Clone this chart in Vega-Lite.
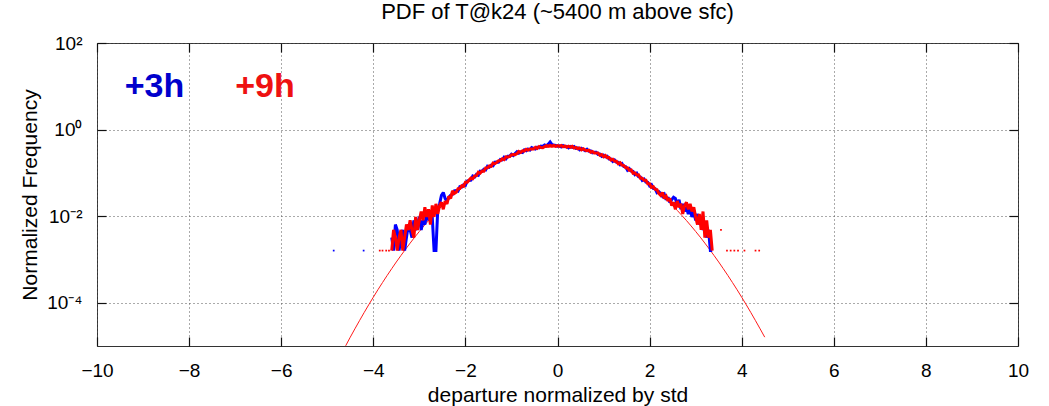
{
  "$schema": "https://vega.github.io/schema/vega-lite/v6.json",
  "autosize": {"type": "none"},
  "width": 921,
  "height": 303,
  "padding": {"left": 97, "top": 43, "right": 31, "bottom": 60},
  "background": "white",
  "title": {
    "text": "PDF of T@k24 (~5400 m above sfc)",
    "font": "Liberation Sans",
    "fontSize": 22,
    "fontWeight": "normal",
    "color": "#000000",
    "anchor": "middle",
    "offset": 10
  },
  "config": {
    "view": {"stroke": "#333333", "strokeWidth": 1},
    "axis": {
      "labelFont": "Liberation Sans",
      "titleFont": "Liberation Sans",
      "labelFontSize": 19,
      "titleFontSize": 21,
      "titleFontWeight": "normal",
      "labelColor": "#000000",
      "titleColor": "#000000",
      "ticks": true,
      "tickColor": "#111111",
      "tickWidth": 1.2,
      "gridColor": "#555555",
      "gridDash": [1, 3],
      "gridOpacity": 1,
      "gridWidth": 1,
      "domain": false
    }
  },
  "datasets": {
    "normal": [
      {"x": -4.6, "pdf": 0.0000101}, {"x": -4.5, "pdf": 0.0000160}, {"x": -4.4, "pdf": 0.0000249},
      {"x": -4.3, "pdf": 0.0000385}, {"x": -4.2, "pdf": 0.0000589}, {"x": -4.1, "pdf": 0.0000893},
      {"x": -4.0, "pdf": 0.000134}, {"x": -3.9, "pdf": 0.000199}, {"x": -3.8, "pdf": 0.000292},
      {"x": -3.7, "pdf": 0.000425}, {"x": -3.6, "pdf": 0.000612}, {"x": -3.5, "pdf": 0.000873},
      {"x": -3.4, "pdf": 0.00123}, {"x": -3.3, "pdf": 0.00172}, {"x": -3.2, "pdf": 0.00238},
      {"x": -3.1, "pdf": 0.00327}, {"x": -3.0, "pdf": 0.00443}, {"x": -2.9, "pdf": 0.00595},
      {"x": -2.8, "pdf": 0.00792}, {"x": -2.7, "pdf": 0.0104}, {"x": -2.6, "pdf": 0.0136},
      {"x": -2.5, "pdf": 0.0175}, {"x": -2.4, "pdf": 0.0224}, {"x": -2.3, "pdf": 0.0283},
      {"x": -2.2, "pdf": 0.0355}, {"x": -2.1, "pdf": 0.0440}, {"x": -2.0, "pdf": 0.0540},
      {"x": -1.9, "pdf": 0.0656}, {"x": -1.8, "pdf": 0.0790}, {"x": -1.7, "pdf": 0.0940},
      {"x": -1.6, "pdf": 0.1109}, {"x": -1.5, "pdf": 0.1295}, {"x": -1.4, "pdf": 0.1497},
      {"x": -1.3, "pdf": 0.1714}, {"x": -1.2, "pdf": 0.1942}, {"x": -1.1, "pdf": 0.2179},
      {"x": -1.0, "pdf": 0.2420}, {"x": -0.9, "pdf": 0.2661}, {"x": -0.8, "pdf": 0.2897},
      {"x": -0.7, "pdf": 0.3123}, {"x": -0.6, "pdf": 0.3332}, {"x": -0.5, "pdf": 0.3521},
      {"x": -0.4, "pdf": 0.3683}, {"x": -0.3, "pdf": 0.3814}, {"x": -0.2, "pdf": 0.3910},
      {"x": -0.1, "pdf": 0.3970}, {"x": 0.0, "pdf": 0.3989}, {"x": 0.1, "pdf": 0.3970},
      {"x": 0.2, "pdf": 0.3910}, {"x": 0.3, "pdf": 0.3814}, {"x": 0.4, "pdf": 0.3683},
      {"x": 0.5, "pdf": 0.3521}, {"x": 0.6, "pdf": 0.3332}, {"x": 0.7, "pdf": 0.3123},
      {"x": 0.8, "pdf": 0.2897}, {"x": 0.9, "pdf": 0.2661}, {"x": 1.0, "pdf": 0.2420},
      {"x": 1.1, "pdf": 0.2179}, {"x": 1.2, "pdf": 0.1942}, {"x": 1.3, "pdf": 0.1714},
      {"x": 1.4, "pdf": 0.1497}, {"x": 1.5, "pdf": 0.1295}, {"x": 1.6, "pdf": 0.1109},
      {"x": 1.7, "pdf": 0.0940}, {"x": 1.8, "pdf": 0.0790}, {"x": 1.9, "pdf": 0.0656},
      {"x": 2.0, "pdf": 0.0540}, {"x": 2.1, "pdf": 0.0440}, {"x": 2.2, "pdf": 0.0355},
      {"x": 2.3, "pdf": 0.0283}, {"x": 2.4, "pdf": 0.0224}, {"x": 2.5, "pdf": 0.0175},
      {"x": 2.6, "pdf": 0.0136}, {"x": 2.7, "pdf": 0.0104}, {"x": 2.8, "pdf": 0.00792},
      {"x": 2.9, "pdf": 0.00595}, {"x": 3.0, "pdf": 0.00443}, {"x": 3.1, "pdf": 0.00327},
      {"x": 3.2, "pdf": 0.00238}, {"x": 3.3, "pdf": 0.00172}, {"x": 3.4, "pdf": 0.00123},
      {"x": 3.5, "pdf": 0.000873}, {"x": 3.6, "pdf": 0.000612}, {"x": 3.7, "pdf": 0.000425},
      {"x": 3.8, "pdf": 0.000292}, {"x": 3.9, "pdf": 0.000199}, {"x": 4.0, "pdf": 0.000134},
      {"x": 4.1, "pdf": 0.0000893}, {"x": 4.2, "pdf": 0.0000589}, {"x": 4.3, "pdf": 0.0000385},
      {"x": 4.4, "pdf": 0.0000249}, {"x": 4.5, "pdf": 0.0000160}
    ],
    "empirical": [
      {"x": -3.60, "b": 0.0032, "r": 0.0016}, {"x": -3.56, "b": 0.0016, "r": 0.0048},
      {"x": -3.52, "b": 0.0064, "r": 0.0032}, {"x": -3.48, "b": 0.0048, "r": 0.0016},
      {"x": -3.44, "b": 0.0016, "r": 0.0032}, {"x": -3.40, "b": 0.0032, "r": 0.0048},
      {"x": -3.36, "b": 0.0048, "r": 0.0016}, {"x": -3.32, "b": 0.0016, "r": 0.0032},
      {"x": -3.28, "b": 0.0032, "r": 0.0064}, {"x": -3.24, "b": 0.0064, "r": 0.0048},
      {"x": -3.20, "b": 0.0048, "r": 0.0080}, {"x": -3.16, "b": 0.0032, "r": 0.0048},
      {"x": -3.12, "b": 0.0080, "r": 0.0032}, {"x": -3.08, "b": 0.0048, "r": 0.0096},
      {"x": -3.04, "b": 0.0064, "r": 0.0048}, {"x": -3.00, "b": 0.0096, "r": 0.0080},
      {"x": -2.96, "b": 0.0048, "r": 0.0128}, {"x": -2.92, "b": 0.0080, "r": 0.0080},
      {"x": -2.88, "b": 0.0064, "r": 0.0160}, {"x": -2.84, "b": 0.0112, "r": 0.0096},
      {"x": -2.80, "b": 0.0080, "r": 0.0144}, {"x": -2.76, "b": 0.0128, "r": 0.0064},
      {"x": -2.72, "b": 0.0096, "r": 0.0176}, {"x": -2.68, "b": 0.0016, "r": 0.0096},
      {"x": -2.64, "b": 0.0016, "r": 0.0192}, {"x": -2.60, "b": 0.0144, "r": 0.0112},
      {"x": -2.56, "b": 0.0192, "r": 0.0176}, {"x": -2.52, "b": 0.0304, "r": 0.0208},
      {"x": -2.48, "b": 0.0352, "r": 0.0144}, {"x": -2.44, "b": 0.0256, "r": 0.0224},
      {"x": -2.40, "b": 0.0224, "r": 0.0192}, {"x": -2.36, "b": 0.0272, "r": 0.0288},
      {"x": -2.32, "b": 0.0304, "r": 0.0256}, {"x": -2.28, "b": 0.0320, "r": 0.0384},
      {"x": -2.24, "b": 0.0384, "r": 0.0336},
      {"x": -2.20, "b": 0.0392, "r": 0.0358}, {"x": -2.16, "b": 0.0378, "r": 0.0430},
      {"x": -2.12, "b": 0.0478, "r": 0.0434}, {"x": -2.08, "b": 0.0468, "r": 0.0501},
      {"x": -2.04, "b": 0.0533, "r": 0.0486}, {"x": -2.00, "b": 0.0516, "r": 0.0607},
      {"x": -1.96, "b": 0.0650, "r": 0.0607}, {"x": -1.92, "b": 0.0664, "r": 0.0684},
      {"x": -1.88, "b": 0.0679, "r": 0.0758}, {"x": -1.84, "b": 0.0840, "r": 0.0732},
      {"x": -1.80, "b": 0.0797, "r": 0.0847}, {"x": -1.76, "b": 0.0917, "r": 0.0863},
      {"x": -1.72, "b": 0.0878, "r": 0.1030}, {"x": -1.68, "b": 0.1094, "r": 0.0981},
      {"x": -1.64, "b": 0.1081, "r": 0.1103}, {"x": -1.60, "b": 0.1211, "r": 0.1094},
      {"x": -1.56, "b": 0.1167, "r": 0.1303}, {"x": -1.52, "b": 0.1426, "r": 0.1307},
      {"x": -1.48, "b": 0.1359, "r": 0.1443}, {"x": -1.44, "b": 0.1501, "r": 0.1412},
      {"x": -1.40, "b": 0.1462, "r": 0.1682}, {"x": -1.36, "b": 0.1761, "r": 0.1628},
      {"x": -1.32, "b": 0.1787, "r": 0.1745}, {"x": -1.28, "b": 0.1772, "r": 0.1901},
      {"x": -1.24, "b": 0.2038, "r": 0.1902}, {"x": -1.20, "b": 0.1998, "r": 0.2121},
      {"x": -1.16, "b": 0.2288, "r": 0.2031}, {"x": -1.12, "b": 0.2104, "r": 0.2350},
      {"x": -1.08, "b": 0.2408, "r": 0.2338}, {"x": -1.04, "b": 0.2415, "r": 0.2366},
      {"x": -1.00, "b": 0.2693, "r": 0.2617}, {"x": -0.96, "b": 0.2510, "r": 0.2668},
      {"x": -0.92, "b": 0.2799, "r": 0.2634}, {"x": -0.88, "b": 0.3072, "r": 0.2787},
      {"x": -0.84, "b": 0.2855, "r": 0.3120}, {"x": -0.80, "b": 0.3042, "r": 0.2951},
      {"x": -0.76, "b": 0.2950, "r": 0.3232}, {"x": -0.72, "b": 0.3395, "r": 0.3201},
      {"x": -0.68, "b": 0.3258, "r": 0.3490}, {"x": -0.64, "b": 0.3551, "r": 0.3346},
      {"x": -0.60, "b": 0.3359, "r": 0.3569}, {"x": -0.56, "b": 0.3831, "r": 0.3545},
      {"x": -0.52, "b": 0.3696, "r": 0.3549}, {"x": -0.48, "b": 0.3546, "r": 0.3882},
      {"x": -0.44, "b": 0.3916, "r": 0.3688}, {"x": -0.40, "b": 0.3790, "r": 0.4060},
      {"x": -0.36, "b": 0.4162, "r": 0.3847}, {"x": -0.32, "b": 0.4060, "r": 0.3821},
      {"x": -0.28, "b": 0.4391, "r": 0.4068}, {"x": -0.24, "b": 0.4233, "r": 0.4274},
      {"x": -0.20, "b": 0.4599, "r": 0.4147}, {"x": -0.16, "b": 0.5170, "r": 0.4300},
      {"x": -0.12, "b": 0.4491, "r": 0.4158}, {"x": -0.08, "b": 0.4384, "r": 0.4300},
      {"x": -0.04, "b": 0.4311, "r": 0.4101}, {"x": 0.00, "b": 0.4146, "r": 0.4272},
      {"x": 0.04, "b": 0.4228, "r": 0.4104}, {"x": 0.08, "b": 0.3970, "r": 0.4300},
      {"x": 0.12, "b": 0.4283, "r": 0.3995}, {"x": 0.16, "b": 0.4014, "r": 0.4178},
      {"x": 0.20, "b": 0.4107, "r": 0.3903}, {"x": 0.24, "b": 0.3792, "r": 0.4112},
      {"x": 0.28, "b": 0.4070, "r": 0.3911}, {"x": 0.32, "b": 0.3865, "r": 0.4099},
      {"x": 0.36, "b": 0.4044, "r": 0.3735}, {"x": 0.40, "b": 0.3679, "r": 0.3869},
      {"x": 0.44, "b": 0.3767, "r": 0.3619}, {"x": 0.48, "b": 0.3408, "r": 0.3771},
      {"x": 0.52, "b": 0.3697, "r": 0.3413}, {"x": 0.56, "b": 0.3478, "r": 0.3617},
      {"x": 0.60, "b": 0.3263, "r": 0.3365}, {"x": 0.64, "b": 0.3515, "r": 0.3250},
      {"x": 0.68, "b": 0.3164, "r": 0.3326}, {"x": 0.72, "b": 0.3235, "r": 0.2984},
      {"x": 0.76, "b": 0.2897, "r": 0.3110}, {"x": 0.80, "b": 0.2985, "r": 0.2866},
      {"x": 0.84, "b": 0.3002, "r": 0.2859}, {"x": 0.88, "b": 0.2680, "r": 0.2874},
      {"x": 0.92, "b": 0.2718, "r": 0.2558}, {"x": 0.96, "b": 0.2412, "r": 0.2643},
      {"x": 1.00, "b": 0.2567, "r": 0.2345}, {"x": 1.04, "b": 0.2345, "r": 0.2511},
      {"x": 1.08, "b": 0.2408, "r": 0.2249}, {"x": 1.12, "b": 0.2087, "r": 0.2261},
      {"x": 1.16, "b": 0.2098, "r": 0.1994}, {"x": 1.20, "b": 0.1842, "r": 0.2060},
      {"x": 1.24, "b": 0.1980, "r": 0.1848}, {"x": 1.28, "b": 0.1757, "r": 0.1847},
      {"x": 1.32, "b": 0.1753, "r": 0.1617}, {"x": 1.36, "b": 0.1533, "r": 0.1711},
      {"x": 1.40, "b": 0.1634, "r": 0.1512}, {"x": 1.44, "b": 0.1400, "r": 0.1472},
      {"x": 1.48, "b": 0.1388, "r": 0.1307}, {"x": 1.52, "b": 0.1156, "r": 0.1307},
      {"x": 1.56, "b": 0.1253, "r": 0.1147}, {"x": 1.60, "b": 0.1098, "r": 0.1164},
      {"x": 1.64, "b": 0.1082, "r": 0.0978}, {"x": 1.68, "b": 0.0915, "r": 0.1002},
      {"x": 1.72, "b": 0.0982, "r": 0.0891}, {"x": 1.76, "b": 0.0814, "r": 0.0899},
      {"x": 1.80, "b": 0.0798, "r": 0.0751}, {"x": 1.84, "b": 0.0668, "r": 0.0749},
      {"x": 1.88, "b": 0.0715, "r": 0.0674}, {"x": 1.92, "b": 0.0613, "r": 0.0676},
      {"x": 1.96, "b": 0.0602, "r": 0.0561}, {"x": 2.00, "b": 0.0502, "r": 0.0562},
      {"x": 2.04, "b": 0.0533, "r": 0.0463}, {"x": 2.08, "b": 0.0436, "r": 0.0482},
      {"x": 2.12, "b": 0.0430, "r": 0.0414}, {"x": 2.16, "b": 0.0348, "r": 0.0410},
      {"x": 2.20, "b": 0.0369, "r": 0.0337},
      {"x": 2.24, "b": 0.0336, "r": 0.0304}, {"x": 2.28, "b": 0.0288, "r": 0.0352},
      {"x": 2.32, "b": 0.0320, "r": 0.0256}, {"x": 2.36, "b": 0.0240, "r": 0.0288},
      {"x": 2.40, "b": 0.0272, "r": 0.0224}, {"x": 2.44, "b": 0.0208, "r": 0.0256},
      {"x": 2.48, "b": 0.0240, "r": 0.0176}, {"x": 2.52, "b": 0.0272, "r": 0.0208},
      {"x": 2.56, "b": 0.0256, "r": 0.0144}, {"x": 2.60, "b": 0.0176, "r": 0.0224},
      {"x": 2.64, "b": 0.0240, "r": 0.0160}, {"x": 2.68, "b": 0.0144, "r": 0.0192},
      {"x": 2.72, "b": 0.0192, "r": 0.0112}, {"x": 2.76, "b": 0.0128, "r": 0.0176},
      {"x": 2.80, "b": 0.0160, "r": 0.0208}, {"x": 2.84, "b": 0.0112, "r": 0.0144},
      {"x": 2.88, "b": 0.0144, "r": 0.0192}, {"x": 2.92, "b": 0.0096, "r": 0.0128},
      {"x": 2.96, "b": 0.0128, "r": 0.0160}, {"x": 3.00, "b": 0.0080, "r": 0.0096},
      {"x": 3.04, "b": 0.0112, "r": 0.0064}, {"x": 3.08, "b": 0.0064, "r": 0.0112},
      {"x": 3.12, "b": 0.0096, "r": 0.0048}, {"x": 3.16, "b": 0.0048, "r": 0.0128},
      {"x": 3.20, "b": 0.0064, "r": 0.0032}, {"x": 3.24, "b": 0.0032, "r": 0.0080},
      {"x": 3.28, "b": 0.0048, "r": 0.0032}, {"x": 3.32, "b": 0.0016, "r": 0.0048},
      {"x": 3.36, "b": 0.0016, "r": 0.0016}
    ],
    "isolated": [
      {"x": -4.86, "v": 0.0016, "s": "+3h"}, {"x": -4.21, "v": 0.0016, "s": "+3h"},
      {"x": -3.86, "v": 0.0016, "s": "+9h"}, {"x": -3.80, "v": 0.0016, "s": "+9h"},
      {"x": -3.72, "v": 0.0016, "s": "+9h"}, {"x": -3.66, "v": 0.0016, "s": "+9h"},
      {"x": 3.55, "v": 0.0048, "s": "+9h"}, {"x": 3.68, "v": 0.0016, "s": "+9h"},
      {"x": 3.76, "v": 0.0016, "s": "+9h"}, {"x": 3.84, "v": 0.0016, "s": "+9h"},
      {"x": 3.92, "v": 0.0016, "s": "+9h"}, {"x": 4.06, "v": 0.0016, "s": "+9h"},
      {"x": 4.30, "v": 0.0016, "s": "+9h"}, {"x": 4.38, "v": 0.0016, "s": "+9h"}
    ],
    "labels": [
      {"label": "+3h", "x": -9.4, "y": 5.75},
      {"label": "+9h", "x": -7.0, "y": 5.75}
    ]
  },
  "resolve": {
    "axis": {"x": "independent", "y": "independent"},
    "scale": {"color": "independent"}
  },
  "layer": [
    {
      "data": {"name": "normal"},
      "mark": {"type": "line", "color": "#ff1a1a", "strokeWidth": 1, "clip": true},
      "encoding": {
        "x": {
          "field": "x", "type": "quantitative",
          "scale": {"domain": [-10, 10], "nice": false, "zero": false},
          "axis": {
            "values": [-10, -8, -6, -4, -2, 0, 2, 4, 6, 8, 10],
            "grid": true, "tickSize": -9, "labelPadding": 24,
            "labelFlush": false,
            "title": "departure normalized by std", "titlePadding": 4
          }
        },
        "y": {
          "field": "pdf", "type": "quantitative",
          "scale": {"type": "log", "domain": [0.00001, 100], "nice": false},
          "axis": {
            "values": [0.0001, 0.01, 1, 100],
            "labelExpr": "datum.value > 10 ? '10²' : datum.value > 0.1 ? '10⁰' : datum.value > 0.001 ? '10⁻²' : '10⁻⁴'",
            "grid": true, "tickSize": -9, "labelPadding": 24,
            "labelFlush": false,
            "title": "Normalized Frequency", "titlePadding": 6
          }
        }
      }
    },
    {
      "data": {"name": "empirical"},
      "mark": {"type": "line", "color": "#0000ff", "strokeWidth": 3, "strokeJoin": "miter", "strokeMiterLimit": 2, "clip": true},
      "encoding": {
        "x": {
          "field": "x", "type": "quantitative",
          "scale": {"domain": [-10, 10], "nice": false, "zero": false},
          "axis": {
            "orient": "top", "values": [-10, -8, -6, -4, -2, 0, 2, 4, 6, 8, 10],
            "labels": false, "grid": false, "tickSize": -9, "title": null
          }
        },
        "y": {
          "field": "b", "type": "quantitative",
          "scale": {"type": "log", "domain": [0.00001, 100], "nice": false},
          "axis": {
            "orient": "right", "values": [0.0001, 0.01, 1, 100],
            "labels": false, "grid": false, "tickSize": -9, "title": null
          }
        }
      }
    },
    {
      "data": {"name": "empirical"},
      "mark": {"type": "line", "color": "#ff0000", "strokeWidth": 3, "strokeJoin": "miter", "strokeMiterLimit": 2, "clip": true},
      "encoding": {
        "x": {"field": "x", "type": "quantitative", "scale": {"domain": [-10, 10], "nice": false, "zero": false}, "axis": null},
        "y": {"field": "r", "type": "quantitative", "scale": {"type": "log", "domain": [0.00001, 100], "nice": false}, "axis": null}
      }
    },
    {
      "data": {"name": "isolated"},
      "mark": {"type": "point", "shape": "square", "filled": true, "size": 3, "opacity": 1},
      "encoding": {
        "x": {"field": "x", "type": "quantitative", "scale": {"domain": [-10, 10], "nice": false, "zero": false}, "axis": null},
        "y": {"field": "v", "type": "quantitative", "scale": {"type": "log", "domain": [0.00001, 100], "nice": false}, "axis": null},
        "color": {"field": "s", "type": "nominal", "scale": {"domain": ["+3h", "+9h"], "range": ["#0000ff", "#ff0000"]}, "legend": null}
      }
    },
    {
      "data": {"name": "labels"},
      "mark": {"type": "text", "font": "Liberation Sans", "fontSize": 34, "fontWeight": "bold", "align": "left", "baseline": "alphabetic"},
      "encoding": {
        "x": {"field": "x", "type": "quantitative", "scale": {"domain": [-10, 10], "nice": false, "zero": false}, "axis": null},
        "y": {"field": "y", "type": "quantitative", "scale": {"type": "log", "domain": [0.00001, 100], "nice": false}, "axis": null},
        "text": {"field": "label"},
        "color": {"field": "label", "type": "nominal", "scale": {"domain": ["+3h", "+9h"], "range": ["#0000cc", "#ee1111"]}, "legend": null}
      }
    }
  ]
}
